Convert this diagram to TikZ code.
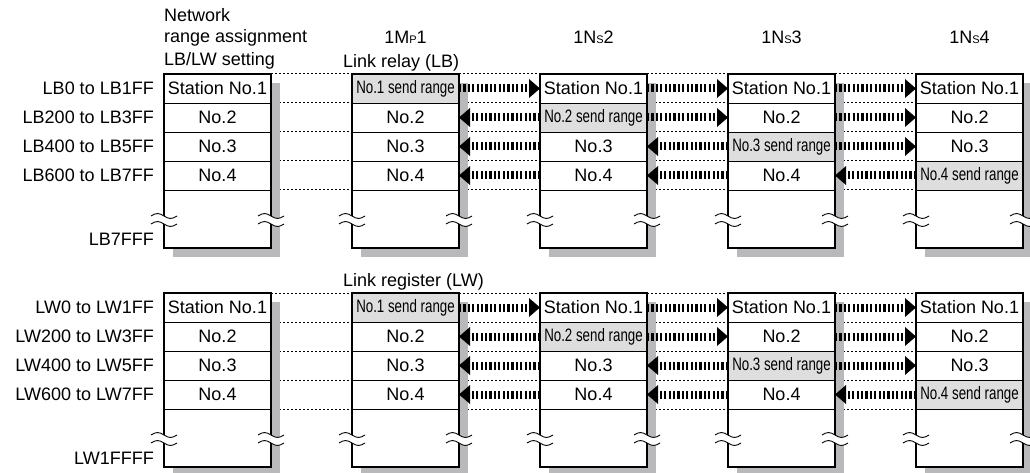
\documentclass[tikz,border=0pt]{standalone}
\usepackage{fontspec}
\usepackage{graphicx}
\setmainfont{Liberation Sans}
\usetikzlibrary{arrows.meta}
\definecolor{shgray}{HTML}{B9B9BB}
\definecolor{sendgray}{HTML}{DEDEDE}
\pgfdeclarelayer{back}
\pgfsetlayers{back,main}
\newcommand\smallL[1]{{\fontsize{11}{11}\selectfont #1}}
\begin{document}
\begin{tikzpicture}[x=1pt,y=-1pt,
  txt/.style={font=\fontsize{18}{18}\selectfont, inner sep=0pt},
  cellbox/.style={draw, line width=0.8pt, minimum width=107pt, minimum height=29pt, inner sep=0pt, outer sep=0pt, fill=white, font=\fontsize{18}{18}\selectfont},
  sendcell/.style={cellbox, fill=sendgray},
  outerbox/.style={minimum width=107pt, minimum height=174pt, inner sep=0pt, outer sep=0pt, fill=white},
  border/.style={line width=2pt},
  dotline/.style={line width=1pt, dash pattern=on 2pt off 2pt},
  relay/.style={line width=8pt, dash pattern=on 2.2pt off 2.2pt, -{Triangle[length=11pt,width=19pt,line width=0pt]}},
  wave/.style={line width=0.9pt},
  brk/.pic={
    \fill[white] (-13,-4) sin (-6.5,-6.5) cos (0,-4) sin (6.5,-1.5) cos (13,-4) -- (13,4) sin (6.5,6.5) cos (0,4) sin (-6.5,1.5) cos (-13,4) -- cycle;
    \draw[wave] (-13,-4) sin (-6.5,-6.5) cos (0,-4) sin (6.5,-1.5) cos (13,-4);
    \draw[wave] (-13,4) sin (-6.5,1.5) cos (0,4) sin (6.5,6.5) cos (13,4);
  }
]
\useasboundingbox (0,0) rectangle (1030,473);
% headers
\node[txt, anchor=west] (h1) at (164,15) {Network};
\node[txt, anchor=west] (h2) at (164,38) {range assignment};
\node[txt, anchor=west] (h3) at (164,61) {LB/LW setting};
\node[txt] (st1) at (405.5,37) {1M\smallL{P}1};
\node[txt] (st2) at (593.5,37) {1N\smallL{S}2};
\node[txt] (st3) at (781.5,37) {1N\smallL{S}3};
\node[txt] (st4) at (969.5,37) {1N\smallL{S}4};

\foreach \T/\Sx/\lab/\last/\title in {74/B/LB/LB7FFF/Link relay (LB), 293/W/LW/LW1FFFF/Link register (LW)}{
  \node[txt,anchor=west] (title-\Sx) at (343,\T-11) {\title};
  \foreach \lt [count=\j from 0] in {\lab0 to \lab1FF,\lab200 to \lab3FF,\lab400 to \lab5FF,\lab600 to \lab7FF}
    \node[txt, anchor=east] (lab-\Sx-\j) at (154, \T+14.5+29*\j) {\lt};
  \node[txt,anchor=east] (lab-\Sx-4) at (154,\T+165) {\last};
  \foreach \i in {0,...,4}{
    \pgfmathsetmacro\xL{164+188*\i}
    \pgfmathsetmacro\xR{\xL+107}
    \pgfmathsetmacro\xC{\xL+53.5}
    \fill[shgray] (\xL+9,\T+9) rectangle (\xR+9,\T+183);
    \node[outerbox] (b-\Sx-\i) at (\xC,\T+87) {};
    \foreach \j in {0,...,3}{
      \pgfmathtruncatemacro\st{\j+1}
      \ifnum\i=\st
        \node[sendcell] (c-\Sx-\i-\j) at (\xC,\T+14.5+29*\j) {\scalebox{0.74}[1]{No.\st\ send range}};
      \else
        \ifnum\j=0
          \node[cellbox] (c-\Sx-\i-\j) at (\xC,\T+14.5+29*\j) {Station No.1};
        \else
          \node[cellbox] (c-\Sx-\i-\j) at (\xC,\T+14.5+29*\j) {No.\st};
        \fi
      \fi
    }
    \draw[border] (b-\Sx-\i.north west) rectangle (b-\Sx-\i.south east);
    \pic at (\xL,\T+146) {brk};
    \pic at (\xR,\T+146) {brk};
  }
  % dotted guide lines
  \begin{pgfonlayer}{back}
  \foreach \i in {0,...,3}{
    \pgfmathtruncatemacro\k{\i+1}
    \foreach \j in {0,...,3}
      \draw[dotline] (c-\Sx-\i-\j.north east) -- (c-\Sx-\k-\j.north west);
    \draw[dotline] (c-\Sx-\i-3.south east) -- (c-\Sx-\k-3.south west);
  }
  \end{pgfonlayer}
  % transfer arrows
  \foreach \i in {1,2,3}{
    \pgfmathtruncatemacro\k{\i+1}
    \foreach \j in {0,...,3}{
      \pgfmathtruncatemacro\st{\j+1}
      \ifnum\st>\i
        \draw[relay] (c-\Sx-\k-\j.west) -- (c-\Sx-\i-\j.east);
      \else
        \draw[relay] (c-\Sx-\i-\j.east) -- (c-\Sx-\k-\j.west);
      \fi
    }
  }
}
\end{tikzpicture}
\end{document}
